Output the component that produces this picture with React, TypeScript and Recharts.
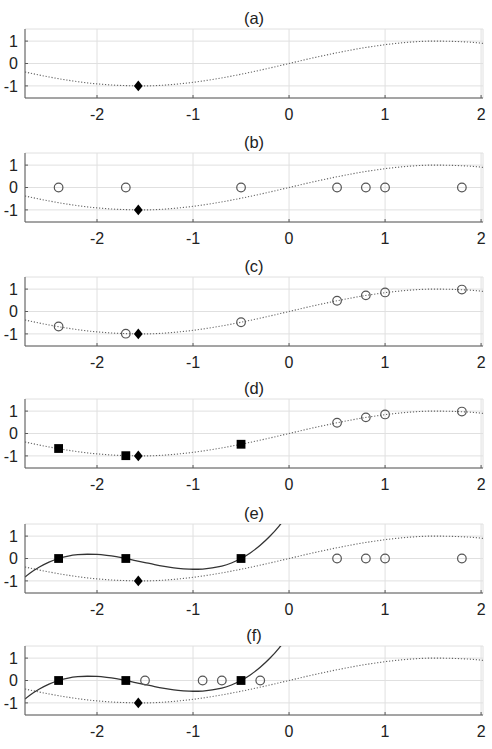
import React from 'react';
import { ComposedChart, Line, Scatter, XAxis, YAxis, CartesianGrid } from 'recharts';

// ---- data ----
const xTicks = [-2, -1, 0, 1, 2];
const yTicks = [-1, 0, 1];
const panelTitles = ['(a)', '(b)', '(c)', '(d)', '(e)', '(f)'];

// dotted reference curve
const curveX = [-2.75, -2.5, -2.25, -2.0, -1.75, -1.5, -1.25, -1.0, -0.75, -0.5, -0.25, 0, 0.25, 0.5, 0.75, 1.0, 1.25, 1.5, 1.75, 2.0, 2.02];
const curveY = [-0.38, -0.6, -0.78, -0.91, -0.98, -1.0, -0.95, -0.84, -0.68, -0.48, -0.25, 0, 0.25, 0.48, 0.68, 0.84, 0.95, 1.0, 0.98, 0.91, 0.9];

// solid fitted curve (panels e, f)
const fitX = [-2.75, -2.7, -2.6, -2.5, -2.4, -2.3, -2.2, -2.1, -2.0, -1.9, -1.8, -1.7, -1.6, -1.5, -1.4, -1.3, -1.2, -1.1, -1.0, -0.9, -0.8, -0.7, -0.6, -0.5, -0.4, -0.3, -0.2, -0.1, 0.0];
const fitY = [-0.83, -0.66, -0.38, -0.16, 0, 0.11, 0.17, 0.19, 0.18, 0.14, 0.08, 0, -0.09, -0.18, -0.27, -0.35, -0.42, -0.46, -0.48, -0.47, -0.42, -0.34, -0.2, 0, 0.26, 0.59, 0.99, 1.47, 2.04];

// samples
const sampleX = [-2.4, -1.7, -0.5, 0.5, 0.8, 1.0, 1.8];
const sampleYZero = [0, 0, 0, 0, 0, 0, 0];
const sampleYTrue = [-0.67, -0.99, -0.48, 0.48, 0.72, 0.85, 0.98];
const knownX = [-2.4, -1.7, -0.5];
const knownYTrue = [-0.67, -0.99, -0.48];
const knownYZero = [0, 0, 0];
const restX = [0.5, 0.8, 1.0, 1.8];
const restYTrue = [0.48, 0.72, 0.85, 0.98];
const restYZero = [0, 0, 0, 0];
const candX = [-1.5, -0.9, -0.7, -0.3];
const candY = [0, 0, 0, 0];
const minX = [-1.57];
const minY = [-1];

const zip = (xs: number[], ys: number[]) => xs.map((x, i) => ({ x, y: ys[i] }));

type P = { x: number; y: number }[];
interface PanelCfg { circles: P; squares: P; fit: boolean; }

const panels: PanelCfg[] = [
  { circles: [], squares: [], fit: false },
  { circles: zip(sampleX, sampleYZero), squares: [], fit: false },
  { circles: zip(sampleX, sampleYTrue), squares: [], fit: false },
  { circles: zip(restX, restYTrue), squares: zip(knownX, knownYTrue), fit: false },
  { circles: zip(restX, restYZero), squares: zip(knownX, knownYZero), fit: true },
  { circles: zip(candX, candY), squares: zip(knownX, knownYZero), fit: true },
];

// ---- layout ----
const plotTops = [29.3, 153.3, 276.7, 399.3, 524.3, 646];
const W = 492;
const H = 130;
const TOPM = 20;
const FONT = "'Liberation Sans', Arial, Helvetica, sans-serif";
const TXT = '#222';
const BOX = '#5a5a5a';

const fmt = (v: number) => String(v);

const BottomTick = (p: any) => (
  <g>
    <line x1={p.x} y1={p.y} x2={p.x} y2={p.y - 3} stroke={BOX} strokeWidth={1} />
    <text x={p.x} y={p.y + 21.8} textAnchor="middle" fontSize={16} fontFamily={FONT} fill={TXT}>{fmt(p.payload.value)}</text>
  </g>
);
const TopTick = (p: any) => (
  <line x1={p.x} y1={p.y} x2={p.x} y2={p.y + 3} stroke={BOX} strokeWidth={1} />
);
const LeftTick = (p: any) => (
  <g>
    <line x1={p.x} y1={p.y} x2={p.x + 3} y2={p.y} stroke={BOX} strokeWidth={1} />
    <text x={p.x - 7} y={p.y + 5.7} textAnchor="end" fontSize={16} fontFamily={FONT} fill={TXT}>{fmt(p.payload.value)}</text>
  </g>
);
const RightTick = (p: any) => (
  <line x1={p.x} y1={p.y} x2={p.x - 3} y2={p.y} stroke={BOX} strokeWidth={1} />
);

const Circle = (p: any) => (
  <circle cx={p.cx} cy={p.cy} r={4.3} fill="none" stroke="#555" strokeWidth={1.2} />
);
const Square = (p: any) => (
  <rect x={p.cx - 4.4} y={p.cy - 4.4} width={8.8} height={8.8} fill="#000" />
);
const Diamond = (p: any) => (
  <polygon points={`${p.cx},${p.cy - 5.4} ${p.cx + 4.4},${p.cy} ${p.cx},${p.cy + 5.4} ${p.cx - 4.4},${p.cy}`} fill="#000" />
);

const Panel = ({ cfg, title, top }: { cfg: PanelCfg; title: string; top: number }) => (
  <div style={{ position: 'absolute', left: 0, top: top - TOPM, width: W, height: H }}>
    <ComposedChart width={W} height={H} margin={{ top: TOPM, right: 9, bottom: 0, left: 0 }}>
      <CartesianGrid stroke="#e0e0e0" strokeWidth={1} />
      <XAxis type="number" dataKey="x" domain={[-2.75, 2.02]} allowDataOverflow ticks={xTicks}
        height={41} tickSize={0} tickMargin={0} tickLine={false} axisLine={{ stroke: BOX }} tick={BottomTick} interval={0} />
      <XAxis xAxisId="top" orientation="top" type="number" dataKey="x" domain={[-2.75, 2.02]} allowDataOverflow ticks={xTicks}
        height={0} tickSize={0} tickMargin={0} tickLine={false} axisLine={{ stroke: BOX }} tick={TopTick} interval={0} />
      <YAxis type="number" domain={[-1.54, 1.54]} allowDataOverflow ticks={yTicks}
        width={25} tickSize={0} tickMargin={0} tickLine={false} axisLine={{ stroke: BOX }} tick={LeftTick} interval={0} />
      <YAxis yAxisId="right" orientation="right" type="number" domain={[-1.54, 1.54]} allowDataOverflow ticks={yTicks}
        width={0} tickSize={0} tickMargin={0} tickLine={false} axisLine={{ stroke: BOX }} tick={RightTick} interval={0} />
      <Line data={zip(curveX, curveY)} dataKey="y" type="monotone" stroke="#666" strokeWidth={1.1}
        strokeDasharray="1.2 1.8" dot={false} activeDot={false} isAnimationActive={false} />
      {cfg.fit && (
        <Line data={zip(fitX, fitY)} dataKey="y" type="monotone" stroke="#333" strokeWidth={1.3}
          dot={false} activeDot={false} isAnimationActive={false} />
      )}
      {cfg.circles.length > 0 && (
        <Scatter data={cfg.circles} dataKey="y" shape={Circle} isAnimationActive={false} />
      )}
      {cfg.squares.length > 0 && (
        <Scatter data={cfg.squares} dataKey="y" shape={Square} isAnimationActive={false} />
      )}
      <Scatter data={zip(minX, minY)} dataKey="y" shape={Diamond} isAnimationActive={false} />
    </ComposedChart>
    <svg width={W} height={TOPM} style={{ position: 'absolute', left: 0, top: 0, pointerEvents: 'none' }}>
      <text x={254} y={TOPM - 5.5} textAnchor="middle" fontSize={16.5} fontFamily={FONT} fill={TXT}>{title}</text>
    </svg>
  </div>
);

export default function App() {
  return (
    <div style={{ position: 'absolute', left: 0, top: 0, width: W, height: 749, background: '#fff', overflow: 'hidden' }}>
      {panels.map((cfg, i) => (
        <Panel key={i} cfg={cfg} title={panelTitles[i]} top={plotTops[i]} />
      ))}
    </div>
  );
}
